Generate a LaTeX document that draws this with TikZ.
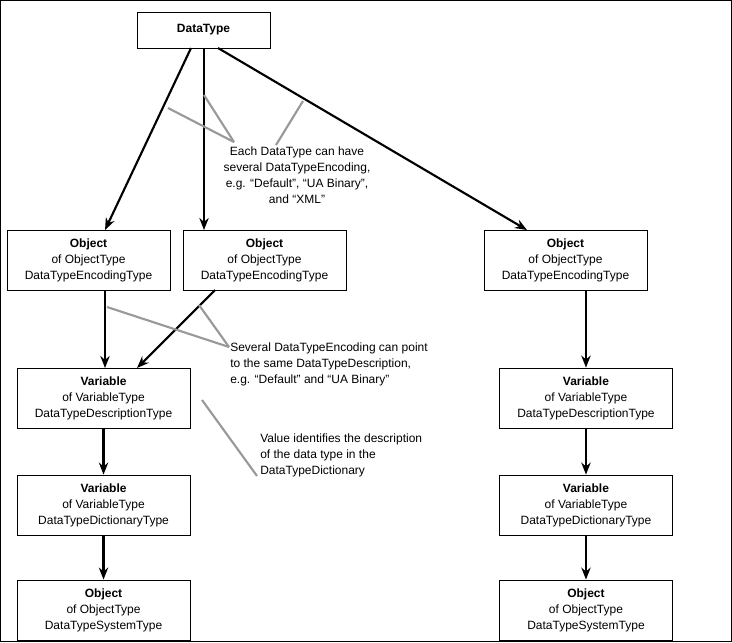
\documentclass[tikz,border=0pt]{standalone}
\usepackage{fontspec}
\setmainfont{Liberation Sans}
\usetikzlibrary{arrows.meta}
\begin{document}
\begin{tikzpicture}[x=0.75pt,y=-0.75pt,
  font=\fontsize{9}{12}\selectfont,
  box/.style={draw,line width=0.6pt,align=center,inner sep=0pt},
  arr/.style={line width=1.6pt,-{Stealth[length=9pt,width=7pt]}},
  gray line/.style={draw=gray!80,line width=1.6pt},
  note/.style={align=left,inner sep=0pt}]
\draw[line width=0.8pt] (0.5,0.5) rectangle (731.5,641.5);
\useasboundingbox (0,0) rectangle (732,642);
\node[box,minimum width=133*0.75pt,minimum height=36*0.75pt] (dt) at (203.5,30) {\textbf{DataType}};
\tikzset{obj/.style={box,minimum width=163*0.75pt,minimum height=60*0.75pt},
         var/.style={box,minimum width=173*0.75pt,minimum height=60*0.75pt}}
\node[obj] (o1) at (88.5,260) {\textbf{Object}\\of ObjectType\\DataTypeEncodingType};
\node[obj] (o2) at (264.5,260) {\textbf{Object}\\of ObjectType\\DataTypeEncodingType};
\node[obj] (o3) at (565.5,260) {\textbf{Object}\\of ObjectType\\DataTypeEncodingType};
\node[var] (v1) at (103.5,398) {\textbf{Variable}\\of VariableType\\DataTypeDescriptionType};
\node[var] (v2) at (103.5,505) {\textbf{Variable}\\of VariableType\\DataTypeDictionaryType};
\node[var] (s1) at (103.5,610) {\textbf{Object}\\of ObjectType\\DataTypeSystemType};
\node[var] (r1) at (586,398) {\textbf{Variable}\\of VariableType\\DataTypeDescriptionType};
\node[var] (r2) at (586,505) {\textbf{Variable}\\of VariableType\\DataTypeDictionaryType};
\node[var] (rs) at (586,610) {\textbf{Object}\\of ObjectType\\DataTypeSystemType};
% arrows
\coordinate (d1) at (191,48); \coordinate (d2) at (204,48); \coordinate (d3) at (218,48);
\coordinate (t1) at (105,230); \coordinate (t2) at (204,230); \coordinate (t3) at (527,230);
\draw[arr] (d1) -- (t1);
\draw[arr] (d2) -- (t2);
\draw[arr] (d3) -- (t3);
\coordinate (a1) at (105,290); \coordinate (b1) at (105,368);
\coordinate (a2) at (215,290); \coordinate (b2) at (137,368);
\draw[arr] (a1) -- (b1);
\draw[arr] (a2) -- (b2);
\draw[arr] (v1) -- (v2);
\draw[arr] (v2) -- (s1);
\draw[arr] (o3.south -| r1) -- (r1);
\draw[arr] (r1) -- (r2);
\draw[arr] (r2) -- (rs);
% notes
\node[align=center,inner sep=0pt] (n1) at (297,175) {Each DataType can have\\several DataTypeEncoding,\\e.g. “Default”, “UA Binary”,\\and “XML”};
\coordinate (g1) at (168,108); \coordinate (g2) at (204,95); \coordinate (g3) at (303,101);
\coordinate (h1) at (234,142); \coordinate (h3) at (276,145);
\draw[gray line] (g1) -- (h1);
\draw[gray line] (g2) -- (h1);
\draw[gray line] (g3) -- (h3);
\node[note,anchor=north west] (n2) at (230,343) {Several DataTypeEncoding can point\\to the same DataTypeDescription,\\e.g. “Default” and “UA Binary”};
\coordinate (k1) at (107,307); \coordinate (k2) at (199,305); \coordinate (k3) at (229,347);
\draw[gray line] (k1) -- (k3);
\draw[gray line] (k2) -- (k3);
\node[note,anchor=north west] (n3) at (260,434) {Value identifies the description\\of the data type in the\\DataTypeDictionary};
\coordinate (m1) at (202,400); \coordinate (m2) at (257,476);
\draw[gray line] (m1) -- (m2);
\end{tikzpicture}
\end{document}
